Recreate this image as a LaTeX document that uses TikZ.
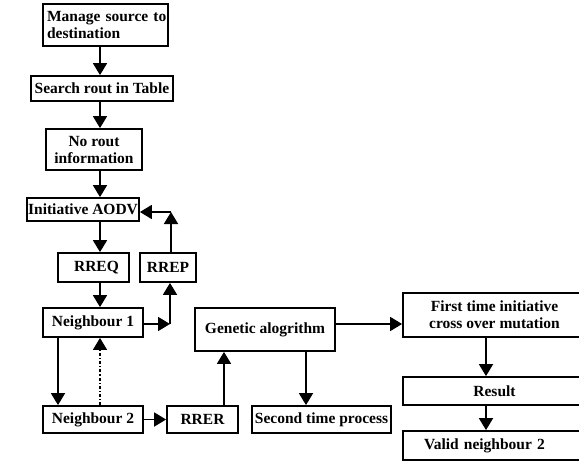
\documentclass[tikz,border=0pt]{standalone}
\usepackage{fontspec}
\setmainfont{Liberation Serif}
\usetikzlibrary{arrows.meta}
\begin{document}
\begin{tikzpicture}[x=1pt,y=-1pt,
  box/.style={draw,line width=1.8pt,inner sep=0pt,align=center,
    font=\bfseries\fontsize{15.5}{17}\selectfont},
  arr/.style={line width=1.8pt,-{Triangle[length=12pt,width=14pt]}},
  dd/.style={line width=1.2pt,dash dot,-{Triangle[length=12pt,width=14pt]}}]
\clip (0,0) rectangle (579,461);
\fill[white] (0,0) rectangle (579,461);
\node[box,minimum width=125pt,minimum height=42pt,text width=123pt,align=left] (m) at (105.5,25) {\hspace*{3pt}Manage source to\\\hspace*{3pt}destination};
\node[box,minimum width=142pt,minimum height=25pt] (s) at (102,88.5) {Search rout in Table};
\node[box,minimum width=96pt,minimum height=41pt] (n) at (94,149.5) {No rout\\information};
\node[box,minimum width=112pt,minimum height=23pt] (a) at (83,209.5) {Initiative AODV};
\node[box,minimum width=71pt,minimum height=29pt] (q) at (93.5,267.5) {\hspace*{6pt}RREQ};
\node[box,minimum width=56pt,minimum height=29pt] (p) at (168,267.5) {RREP};
\node[box,minimum width=100pt,minimum height=29pt] (n1) at (93,322.5) {Neighbour 1};
\node[box,minimum width=100pt,minimum height=27pt] (n2) at (93,419.5) {Neighbour 2};
\node[box,minimum width=71pt,minimum height=27pt] (r) at (202.5,419.5) {RRER};
\node[box,minimum width=140pt,minimum height=43pt] (g) at (265,329.5) {\raisebox{2pt}{Genetic alogrithm}};
\node[box,minimum width=139pt,minimum height=27pt] (st) at (321.5,419.5) {Second time process};
\node[box,minimum width=183pt,minimum height=44pt] (f) at (494.5,315) {First time initiative\\cross over mutation};
\node[box,minimum width=183pt,minimum height=28pt] (res) at (494.5,391) {Result};
\node[box,minimum width=183pt,minimum height=29pt,text width=165pt,align=left] (v) at (494.5,445.5) {\hspace*{12pt}Valid neighbour 2};
\coordinate (c1) at (170,324);
\coordinate (c2) at (171,212);
\draw[arr] (m.south -| 100,0) -- (s.north -| 100,0);
\draw[arr] (s.south -| 100,0) -- (n.north -| 100,0);
\draw[arr] (n.south -| 100,0) -- (a.north -| 100,0);
\draw[arr] (a.south -| 100,0) -- (q.north -| 100,0);
\draw[arr] (q.south -| 100,0) -- (n1.north -| 100,0);
\draw[arr] (n1.east |- c1) -- (c1);
\draw[arr] (c1) -- (p.south -| c1);
\draw[arr] (p.north -| c2) -- (c2);
\draw[arr] (c2) -- (a.east |- c2);
\draw[arr] (n1.south -| 58,0) -- (n2.north -| 58,0);
\draw[dd] (n2.north -| 100,0) -- (n1.south -| 100,0);
\draw[arr] (n2.east) -- (r.west);
\draw[arr] (r.north -| 224,0) -- (g.south -| 224,0);
\draw[arr] (g.south -| 306,0) -- (st.north -| 306,0);
\draw[arr] (g.east |- 0,324) -- (f.west |- 0,324);
\draw[arr] (f.south -| 486,0) -- (res.north -| 486,0);
\draw[arr] (res.south -| 486,0) -- (v.north -| 486,0);
\end{tikzpicture}
\end{document}
